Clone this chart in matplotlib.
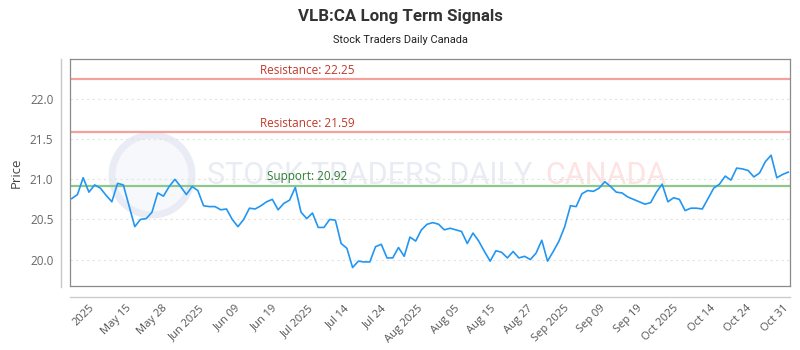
import numpy as np
import matplotlib
matplotlib.use("Agg")
import matplotlib.pyplot as plt
from matplotlib.patches import Circle
from matplotlib.lines import Line2D

# ---------------------------
#  Data
# ---------------------------
prices = [
    20.76, 20.81, 21.02, 20.84, 20.93, 20.89, 20.80, 20.72, 20.95, 20.93,
    20.67, 20.41, 20.50, 20.51, 20.59, 20.83, 20.79, 20.91, 21.00, 20.91,
    20.81, 20.91, 20.86, 20.67, 20.66, 20.66, 20.62, 20.63, 20.50, 20.41,
    20.50, 20.64, 20.63, 20.67, 20.72, 20.75, 20.62, 20.70, 20.74, 20.90,
    20.59, 20.51, 20.58, 20.40, 20.40, 20.50, 20.49, 20.20, 20.14, 19.90,
    19.98, 19.97, 19.97, 20.16, 20.19, 20.02, 20.02, 20.15, 20.04, 20.28,
    20.23, 20.37, 20.44, 20.46, 20.44, 20.37, 20.39, 20.37, 20.35, 20.20,
    20.33, 20.23, 20.10, 19.98, 20.11, 20.09, 20.02, 20.10, 20.02, 20.04,
    20.00, 20.08, 20.24, 19.98, 20.10, 20.23, 20.41, 20.67, 20.66, 20.82,
    20.86, 20.85, 20.89, 20.97, 20.91, 20.84, 20.83, 20.78, 20.75, 20.72,
    20.69, 20.71, 20.84, 20.94, 20.72, 20.77, 20.75, 20.61, 20.64, 20.64,
    20.63, 20.76, 20.89, 20.94, 21.04, 20.99, 21.14, 21.13, 21.11, 21.03,
    21.08, 21.22, 21.30, 21.02, 21.06, 21.09,
]

tick_labels = [
    "2025", "May 15", "May 28", "Jun 2025", "Jun 09", "Jun 19", "Jul 2025",
    "Jul 14", "Jul 24", "Aug 2025", "Aug 05", "Aug 15", "Aug 27", "Sep 2025",
    "Sep 09", "Sep 19", "Oct 2025", "Oct 14", "Oct 24", "Oct 31",
]

resistance_levels = [22.25, 21.59]
support_levels = [20.92]

TITLE = "VLB:CA Long Term Signals"
SUBTITLE = "Stock Traders Daily Canada"

FILE_PLOT = "out.png"

NARROW = ["Roboto", "DejaVu Sans"]
plt.rcParams["font.family"] = ["Open Sans", "DejaVu Sans"]


def plot_graph():
    fig = plt.figure(figsize=(8, 3.5), dpi=100)
    ax = fig.add_axes([70 / 800, 1 - 286 / 350, 720 / 800, 227 / 350])

    x = np.arange(len(prices))

    # watermark (logo circle + faint text)
    logo = Circle((1.52, 1.75), 0.40, transform=fig.dpi_scale_trans,
                  facecolor="#f7f8fc", edgecolor="#e9ecf5", lw=5, zorder=0)
    ax.add_patch(logo)
    ax.text(0.19, 0.485, "STOCK TRADERS DAILY", transform=ax.transAxes,
            fontsize=22, family=NARROW, color="#e9ecf4", ha="left",
            va="center", zorder=0)
    ax.text(0.66, 0.485, "CANADA", transform=ax.transAxes,
            fontsize=22, family=NARROW, color="#fde3e3", ha="left",
            va="center", zorder=0)

    # levels
    for lv in resistance_levels:
        ax.axhline(lv, color="#f4a09b", lw=1.6, zorder=2)
        ax.text(0.329, lv + 0.03, f"Resistance: {lv:.2f}", transform=ax.get_yaxis_transform(),
                color="#c0392b", fontsize=8.5, ha="center", va="bottom", zorder=4)
    for lv in support_levels:
        ax.axhline(lv, color="#8cc88c", lw=1.6, zorder=2)
        ax.text(0.329, lv + 0.03, f"Support: {lv:.2f}", transform=ax.get_yaxis_transform(),
                color="#2e7d32", fontsize=8.5, ha="center", va="bottom", zorder=4)

    ax.plot(x, prices, color="#2196f3", lw=1.2, zorder=3)

    ax.set_xlim(-0.3, len(prices) - 0.7)
    ax.set_ylim(19.67, 22.50)
    ax.set_yticks([20.0, 20.5, 21.0, 21.5, 22.0])
    ax.set_yticklabels([f"{v:.1f}" for v in [20.0, 20.5, 21.0, 21.5, 22.0]])
    ax.grid(axis="y", color="#e3e3e3", ls=(0, (2, 3)), lw=0.8, zorder=1)
    ax.grid(axis="x", visible=False)

    ticks = np.linspace(3.0, 124.0, len(tick_labels))
    ax.set_xticks(ticks)
    ax.set_xticklabels(tick_labels, rotation=45, ha="right", va="top",
                       rotation_mode="anchor")
    ax.tick_params(axis="x", length=0, pad=12, labelsize=8, labelcolor="#555555")
    ax.tick_params(axis="y", length=0, pad=12, labelsize=8.5, labelcolor="#666666")

    for s in ax.spines.values():
        s.set_color("#8a8a8a")
        s.set_linewidth(0.9)

    ax.set_ylabel("Price", fontsize=9.5, color="#444444", labelpad=5)

    # outer axis lines
    fig.add_artist(Line2D([60.5 / 800, 60.5 / 800], [1 - 59 / 350, 1 - 287 / 350],
                          color="#c8c8c8", lw=1.0))
    fig.add_artist(Line2D([70 / 800, 790 / 800], [1 - 296.5 / 350, 1 - 296.5 / 350],
                          color="#cccccc", lw=1.0))

    fig.text(0.5, 1 - 16 / 350, TITLE, ha="center", va="center", fontsize=12.2,
             fontweight="bold", color="#333333", family=NARROW)
    fig.text(0.5, 1 - 40 / 350, SUBTITLE, ha="center", va="center", fontsize=7.9,
             color="#222222", family=NARROW)

    fig.savefig(FILE_PLOT, dpi=100)


def main():
    plot_graph()


if __name__ == "__main__":
    main()
